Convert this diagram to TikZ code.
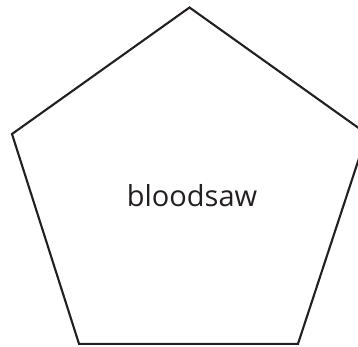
\documentclass[tikz,border=0pt]{standalone}
\usepackage{fontspec}
\setmainfont{Open Sans}
\definecolor{ink}{HTML}{231F20}
\begin{document}
\begin{tikzpicture}[x=1pt,y=-1pt,
  edge/.style={draw=ink,line width=2.1pt,line join=miter},
  lbl/.style={text=ink,font=\fontsize{29}{33}\selectfont,inner sep=0pt,anchor=base}]
\useasboundingbox (0,0) rectangle (358,346);
\coordinate (t) at (189.5,7.5);
\coordinate (l) at (12,134);
\coordinate (r) at (367,134);
\coordinate (bl) at (79,343.8);
\coordinate (br) at (298,343.8);
\draw[edge] (t) -- (r) -- (br) -- (bl) -- (l) -- cycle;
\node[lbl] (txt) at (192,206) {bloodsaw};
\end{tikzpicture}
\end{document}
